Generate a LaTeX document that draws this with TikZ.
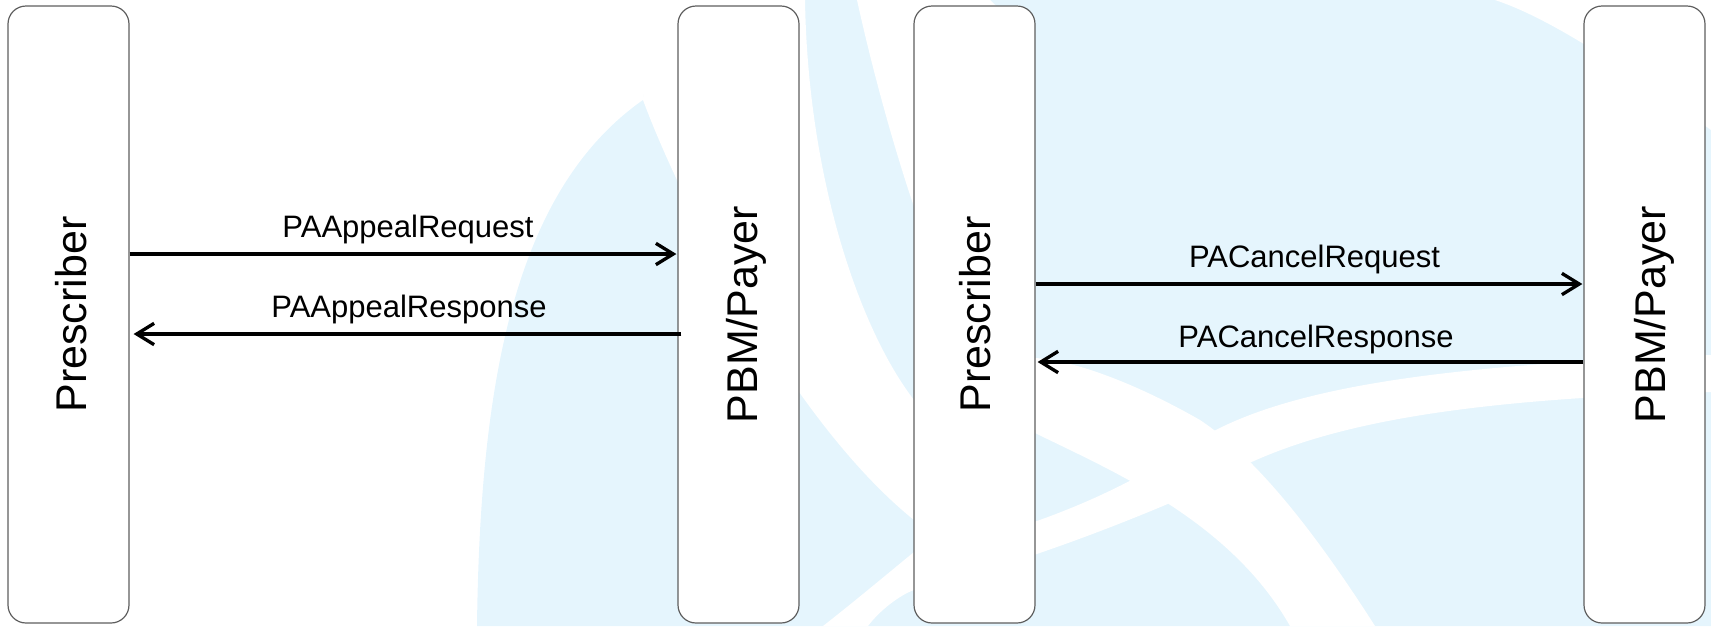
\documentclass[tikz,border=0pt]{standalone}
\usepackage{fontspec}
\setmainfont{Liberation Sans}
\usetikzlibrary{arrows.meta,calc}
\definecolor{wmblue}{RGB}{229,245,253}
\definecolor{boxgray}{RGB}{95,95,95}
\tikzset{
  lane/.style={draw=boxgray, line width=0.9pt, fill=white, rounded corners=13.5pt,
    minimum width=90.75pt, minimum height=462.75pt, inner sep=0pt},
  actor/.style={font=\fontsize{32.25}{38}\selectfont, rotate=90, anchor=base, inner sep=0pt},
  msg/.style={line width=2.5pt, -{Straight Barb[length=13pt,width=16pt]}},
  lbl/.style={font=\fontsize{23.25}{28}\selectfont, anchor=base, inner sep=0pt},
  wm/.style={fill=wmblue},
  wmw/.style={fill=white}
}
\begin{document}
\begin{tikzpicture}[x=0.75pt,y=-0.75pt]
\useasboundingbox (0,0) rectangle (1711,626);
% watermark
\fill[wm] (477,626) .. controls (480,380) and (515,190) .. (643,100) -- (660,0) -- (1711,0) -- (1711,626) -- cycle;
\fill[wmw] (643,100) .. controls (680,200) and (790,420) .. (914,520) -- (914,400)
  .. controls (860,330) and (808,180) .. (805,0) -- (650,0) -- cycle;
\fill[wmw] (857,0) .. controls (890,150) and (960,380) .. (1035,433)
  .. controls (1110,470) and (1230,520) .. (1290,626) -- (1375,626)
  .. controls (1320,540) and (1260,460) .. (1200,420)
  .. controls (1130,380) and (1070,360) .. (1035,358)
  -- (1020,30) -- (990,0) -- cycle;
\fill[wmw] (1711,355) .. controls (1450,365) and (1280,385) .. (1190,445)
  .. controls (1110,500) and (1000,540) .. (914,552)
  .. controls (880,580) and (850,605) .. (823,626) -- (868,626)
  .. controls (880,610) and (900,595) .. (914,590)
  .. controls (1000,570) and (1110,530) .. (1200,490)
  .. controls (1300,425) and (1450,400) .. (1711,392) -- cycle;
\fill[wmw] (1495,0) .. controls (1540,15) and (1600,50) .. (1711,130) -- (1711,0) -- cycle;
% lanes
\node[lane] (b1) at (68.5,314.5) {};
\node[lane] (b2) at (738.5,314.5) {};
\node[lane] (b3) at (974.5,314.5) {};
\node[lane] (b4) at (1644.5,314.5) {};
\node[actor] (t1) at ($(b1.center)+(18,0)$) {Prescriber};
\node[actor] (t2) at ($(b2.center)+(19,0)$) {PBM/Payer};
\node[actor] (t3) at ($(b3.center)+(16,0)$) {Prescriber};
\node[actor] (t4) at ($(b4.center)+(21,0)$) {PBM/Payer};
% message rows
\coordinate (ya) at (0,254);
\coordinate (yb) at (0,334);
\coordinate (yc) at (0,284);
\coordinate (yd) at (0,362);
\draw[msg] (b1.east |- ya) -- ($(b2.west |- ya)+(-1,0)$);
\draw[msg] ($(b2.west |- yb)+(4,0)$) -- ($(b1.east |- yb)+(4,0)$);
\draw[msg] (b3.east |- yc) -- ($(b4.west |- yc)+(-1,0)$);
\draw[msg] (b4.west |- yd) -- ($(b3.east |- yd)+(2,0)$);
\node[lbl] (l1) at (408,237) {PAAppealRequest};
\node[lbl] (l2) at (409,317) {PAAppealResponse};
\node[lbl] (l3) at (1314.5,267) {PACancelRequest};
\node[lbl] (l4) at (1316,347) {PACancelResponse};
\end{tikzpicture}
\end{document}
